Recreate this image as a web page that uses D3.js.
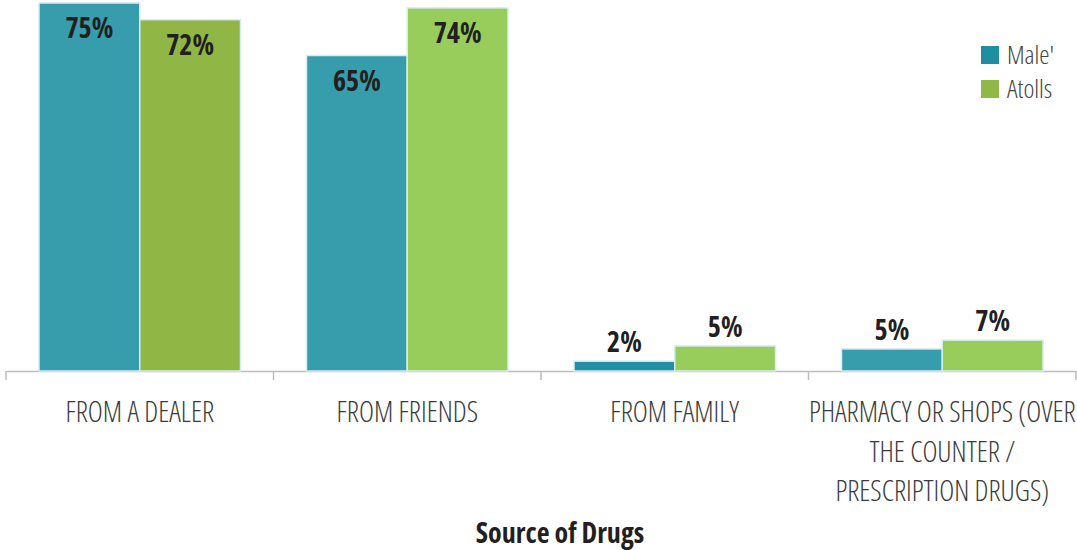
<!DOCTYPE html>
<html lang="en">
<head>
    <meta charset="UTF-8">
    <title>Source of Drugs</title>
    <script src="https://d3js.org/d3.v7.min.js"></script>
    <style>
        body { margin: 0; background: #fff; }
        .cat-label {
            font-family: "Open Sans", "DejaVu Sans Condensed", sans-serif;
            font-stretch: condensed;
            font-weight: 300;
            font-size: 28.5px;
            fill: #3a3a3a;
        }
        .val-label {
            font-family: "Open Sans", "DejaVu Sans Condensed", sans-serif;
            font-stretch: condensed;
            font-weight: 700;
            font-size: 28px;
            fill: #231f20;
        }
        .legend text {
            font-family: "Open Sans", "DejaVu Sans Condensed", sans-serif;
            font-stretch: condensed;
            font-weight: 300;
            font-size: 26px;
            fill: #444;
        }
        .title {
            font-family: "Open Sans", "DejaVu Sans Condensed", sans-serif;
            font-stretch: condensed;
            font-weight: 700;
            font-size: 28px;
            fill: #231f20;
        }
    </style>
</head>
<body>
    <svg width="1077" height="550"></svg>

    <script>
        // chart data
        const categories = ["FROM A DEALER", "FROM FRIENDS", "FROM FAMILY",
            "PHARMACY OR SHOPS (OVER|THE COUNTER /|PRESCRIPTION DRUGS)"];
        const seriesNames = ["Male'", "Atolls"];
        // bar heights, printed labels kept apart
        const maleValues = [75, 64.3, 2, 4.5];
        const atollValues = [71.6, 74, 5.1, 6.3];
        const maleLabels = ["75%", "65%", "2%", "5%"];
        const atollLabels = ["72%", "74%", "5%", "7%"];

        // colours (per bar, the source shades them slightly differently)
        const maleColors = ["#379dac", "#379dac", "#2190a3", "#379dac"];
        const atollColors = ["#90b646", "#99cd5b", "#99cd5b", "#99cd5b"];
        const legendColors = ["#1e8ea1", "#8fb846"];

        const svg = d3.select("svg");
        const baseY = 371;

        const x0 = d3.scaleBand()
            .domain(categories)
            .range([6, 1076])
            .paddingInner(0)
            .paddingOuter(0);

        const x1 = d3.scaleBand()
            .domain(seriesNames)
            .range([33, x0.bandwidth() - 33])
            .padding(0);

        const y = d3.scaleLinear()
            .domain([0, 75])
            .range([baseY, 3]);

        const rows = categories.map(function(c, i) {
            return {
                cat: c, i: i,
                values: [maleValues[i], atollValues[i]],
                labels: [maleLabels[i], atollLabels[i]]
            };
        });

        // axis
        const axis = svg.append("g")
            .attr("transform", "translate(0," + baseY + ")")
            .call(d3.axisBottom(x0).tickSize(0).tickFormat(""));
        axis.select(".domain").attr("stroke", "#bdbdbd").attr("stroke-width", 1.5);
        // group separators
        const edges = categories.map(function(c) { return x0(c); }).concat([x0.range()[1]]);
        axis.selectAll(".sep")
            .data(edges)
            .enter()
            .append("line")
            .attr("x1", function(d) { return d; })
            .attr("x2", function(d) { return d; })
            .attr("y1", 0)
            .attr("y2", 9)
            .attr("stroke", "#bdbdbd")
            .attr("stroke-width", 1.5);

        // bars
        const groups = svg.selectAll(".grp")
            .data(rows)
            .enter()
            .append("g")
            .attr("transform", function(d) { return "translate(" + x0(d.cat) + ",0)"; });

        const bars = groups.selectAll("g.bar")
            .data(function(d) {
                return seriesNames.map(function(s, k) {
                    return {
                        s: s, v: d.values[k], label: d.labels[k],
                        color: k === 0 ? maleColors[d.i] : atollColors[d.i]
                    };
                });
            })
            .enter()
            .append("g");

        bars.append("rect")
            .attr("x", function(d) { return x1(d.s); })
            .attr("y", function(d) { return y(d.v); })
            .attr("width", x1.bandwidth())
            .attr("height", function(d) { return baseY - y(d.v); })
            .attr("fill", function(d) { return d.color; })
            .attr("stroke", "#d6ecee")
            .attr("stroke-width", 1.5);

        bars.append("text")
            .attr("class", "val-label")
            .attr("text-anchor", "middle")
            .attr("x", function(d) { return x1(d.s) + x1.bandwidth() / 2; })
            .attr("y", function(d) { return d.v > 20 ? y(d.v) + 35 : y(d.v) - 9; })
            .text(function(d) { return d.label; });

        // category labels
        svg.selectAll(".cat-label")
            .data(categories)
            .enter()
            .append("text")
            .attr("class", "cat-label")
            .attr("text-anchor", "middle")
            .attr("x", function(d) { return x0(d) + x0.bandwidth() / 2; })
            .attr("y", 422)
            .each(function(d) {
                const t = d3.select(this);
                d.split("|").forEach(function(line, k) {
                    t.append("tspan")
                        .attr("x", x0(d) + x0.bandwidth() / 2)
                        .attr("dy", k === 0 ? 0 : 39.5)
                        .text(line);
                });
            });

        // title
        svg.append("text")
            .attr("class", "title")
            .attr("text-anchor", "middle")
            .attr("x", 560)
            .attr("y", 543)
            .text("Source of Drugs");

        // legend
        const legend = svg.append("g").attr("class", "legend")
            .attr("transform", "translate(981,46)");
        const li = legend.selectAll("g")
            .data(seriesNames)
            .enter()
            .append("g")
            .attr("transform", function(d, i) { return "translate(0," + i * 34 + ")"; });
        li.append("rect")
            .attr("width", 18)
            .attr("height", 18)
            .attr("fill", function(d, i) { return legendColors[i]; });
        li.append("text")
            .attr("x", 26)
            .attr("y", 18)
            .text(function(d) { return d; });
    </script>
</body>
</html>
